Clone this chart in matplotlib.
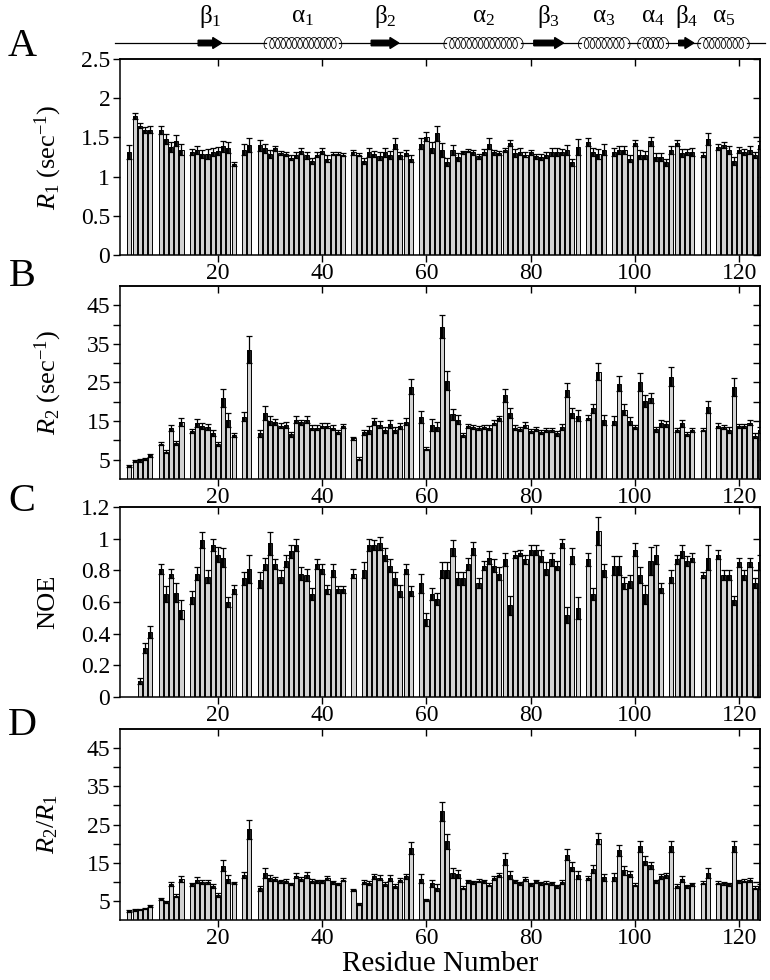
import numpy as np
import matplotlib
matplotlib.use('Agg')
import matplotlib.pyplot as plt
import matplotlib.patches as patches

plt.rcParams['font.family'] = 'Liberation Serif'
plt.rcParams['mathtext.fontset'] = 'custom'
plt.rcParams['mathtext.rm'] = 'Liberation Serif'
plt.rcParams['mathtext.it'] = 'Liberation Serif:italic'
plt.rcParams['axes.linewidth'] = 1.1

# residues without data
gaps = [8, 14, 24, 27, 45, 58, 90, 95, 112, 115]
gaps_noe = gaps + [3, 4, 47, 106]
residues = [r for r in range(3, 125) if r not in gaps]
residues_noe = [r for r in range(3, 125) if r not in gaps_noe]

# R1 (sec^-1)
r1 = [1.31, 1.77, 1.65, 1.59, 1.60,
      1.59, 1.48, 1.38, 1.46, 1.34,
      1.31, 1.34, 1.29, 1.29, 1.31, 1.33, 1.39, 1.37, 1.16,
      1.34, 1.40,
      1.40, 1.36, 1.29, 1.36, 1.30, 1.29, 1.24, 1.28, 1.33, 1.27, 1.20, 1.28, 1.33, 1.23, 1.29, 1.29, 1.28,
      1.31, 1.28, 1.20, 1.31, 1.29, 1.26, 1.31, 1.28, 1.42, 1.27, 1.30, 1.23,
      1.42, 1.51, 1.37, 1.55, 1.34, 1.19, 1.34, 1.25, 1.31, 1.33, 1.31, 1.26, 1.31, 1.42, 1.31, 1.30,
      1.34, 1.43, 1.30, 1.32, 1.28, 1.31, 1.26, 1.25, 1.28, 1.31, 1.31, 1.31, 1.34, 1.18, 1.38,
      1.44, 1.31, 1.29, 1.34,
      1.31, 1.34, 1.34, 1.23, 1.43, 1.28, 1.28, 1.45, 1.25, 1.25, 1.18, 1.34, 1.43, 1.30, 1.31, 1.31,
      1.28, 1.48,
      1.38, 1.40, 1.34, 1.20, 1.34, 1.31, 1.34, 1.28, 1.40]
r1_err = [0.09, 0.04, 0.03, 0.04, 0.04,
          0.05, 0.06, 0.06, 0.07, 0.07,
          0.04, 0.05, 0.05, 0.06, 0.05, 0.05, 0.07, 0.07, 0.02,
          0.07, 0.09,
          0.07, 0.06, 0.05, 0.03, 0.03, 0.03, 0.03, 0.04, 0.04, 0.04, 0.04, 0.03, 0.04, 0.04, 0.02, 0.02, 0.02,
          0.03, 0.02, 0.04, 0.06, 0.04, 0.05, 0.06, 0.05, 0.07, 0.04, 0.04, 0.05,
          0.07, 0.06, 0.07, 0.09, 0.09, 0.05, 0.06, 0.05, 0.02, 0.02, 0.03, 0.03, 0.04, 0.07, 0.03, 0.03,
          0.03, 0.04, 0.05, 0.04, 0.03, 0.03, 0.03, 0.04, 0.04, 0.05, 0.05, 0.04, 0.06, 0.05, 0.10,
          0.05, 0.05, 0.06, 0.07,
          0.05, 0.05, 0.05, 0.05, 0.04, 0.06, 0.05, 0.06, 0.05, 0.05, 0.04, 0.05, 0.04, 0.05, 0.04, 0.05,
          0.03, 0.08,
          0.04, 0.04, 0.05, 0.05, 0.04, 0.04, 0.05, 0.04, 0.05]

# R2 (sec^-1)
r2 = [3.4, 4.6, 4.8, 5.1, 6.1,
      9.1, 7.1, 13.3, 9.4, 14.8,
      12.4, 14.6, 13.8, 13.5, 12.0, 9.1, 20.9, 15.3, 11.4,
      16.1, 33.5,
      11.8, 17.0, 15.1, 14.8, 13.8, 14.0, 11.6, 15.3, 14.7, 15.4, 13.3, 13.3, 13.8, 13.8, 13.3, 12.2, 13.8,
      10.5, 5.3, 12.1, 12.7, 15.0, 14.1, 12.7, 14.2, 12.7, 13.8, 14.8, 23.9,
      16.1, 7.9, 14.0, 13.6, 39.4, 25.5, 16.8, 15.4, 11.4, 13.8, 13.5, 13.3, 13.5, 13.3, 14.6, 15.7,
      21.7, 17.0, 13.3, 12.9, 14.0, 12.5, 13.0, 12.2, 12.7, 12.7, 11.8, 13.5, 23.0, 17.0, 16.4,
      15.9, 18.3, 27.8, 15.3,
      15.1, 24.7, 18.0, 15.1, 13.5, 25.2, 20.2, 21.0, 12.9, 14.4, 14.2, 26.5, 12.7, 14.4, 11.6, 12.7,
      12.8, 18.7,
      13.8, 13.5, 12.7, 23.9, 13.8, 13.8, 14.6, 11.2, 12.7]
r2_err = [0.3, 0.3, 0.3, 0.3, 0.5,
          0.4, 0.4, 0.8, 0.5, 1.1,
          0.5, 1.0, 0.8, 0.8, 0.8, 0.6, 2.3, 1.7, 0.4,
          1.2, 3.5,
          1.0, 1.8, 1.1, 0.8, 0.7, 0.8, 0.6, 0.9, 0.7, 1.0, 0.7, 0.6, 0.7, 0.7, 0.6, 0.5, 0.5,
          0.3, 0.3, 0.6, 1.0, 0.9, 0.9, 0.8, 1.1, 0.9, 0.8, 0.9, 2.0,
          1.5, 0.5, 1.5, 1.1, 3.0, 2.5, 1.4, 1.2, 0.6, 0.5, 0.5, 0.5, 0.5, 0.6, 0.7, 0.6,
          1.7, 1.3, 0.6, 0.5, 0.7, 0.5, 0.6, 0.5, 0.5, 0.5, 0.6, 0.7, 1.8, 1.3, 1.4,
          0.6, 1.2, 2.2, 1.2,
          1.1, 2.0, 1.4, 1.0, 0.6, 2.3, 1.5, 1.2, 0.7, 0.8, 0.7, 2.4, 0.6, 0.9, 0.5, 0.6,
          0.4, 1.6,
          0.6, 0.5, 0.7, 2.3, 0.5, 0.5, 0.7, 0.6, 0.8]

# heteronuclear NOE
noe = [0.10, 0.31, 0.41,
       0.81, 0.65, 0.78, 0.66, 0.55,
       0.63, 0.78, 0.99, 0.76, 0.96, 0.90, 0.88, 0.60, 0.68,
       0.75, 0.81,
       0.74, 0.84, 0.97, 0.84, 0.76, 0.86, 0.92, 0.96, 0.78, 0.77, 0.65, 0.84, 0.81, 0.68, 0.80, 0.68, 0.68,
       0.78,
       0.80, 0.96, 0.96, 0.97, 0.90, 0.83, 0.75, 0.67, 0.81, 0.67,
       0.72, 0.49, 0.65, 0.62, 0.80, 0.80, 0.94, 0.75, 0.75, 0.84, 0.94, 0.72, 0.83, 0.88, 0.83, 0.78,
       0.87, 0.58, 0.90, 0.91, 0.87, 0.93, 0.93, 0.89, 0.81, 0.87, 0.83, 0.97, 0.52, 0.89, 0.56,
       0.87, 0.65, 1.05, 0.80,
       0.83, 0.83, 0.72, 0.73, 0.93, 0.77, 0.65, 0.86, 0.90, 0.69,
       0.76, 0.87, 0.92, 0.86, 0.88,
       0.77, 0.88,
       0.90, 0.77, 0.77, 0.61, 0.85, 0.77, 0.85, 0.72, 0.85]
noe_err = [0.02, 0.03, 0.04,
           0.03, 0.05, 0.03, 0.06, 0.06,
           0.04, 0.04, 0.05, 0.04, 0.04, 0.05, 0.06, 0.03, 0.03,
           0.04, 0.09,
           0.05, 0.04, 0.07, 0.03, 0.04, 0.04, 0.04, 0.04, 0.04, 0.04, 0.04, 0.03, 0.03, 0.03, 0.04, 0.02, 0.02,
           0.03,
           0.05, 0.04, 0.03, 0.04, 0.04, 0.04, 0.04, 0.04, 0.03, 0.03,
           0.06, 0.04, 0.04, 0.04, 0.05, 0.05, 0.05, 0.04, 0.04, 0.04, 0.04, 0.03, 0.03, 0.04, 0.04, 0.04,
           0.04, 0.06, 0.02, 0.02, 0.03, 0.03, 0.03, 0.04, 0.04, 0.04, 0.03, 0.03, 0.05, 0.05, 0.07,
           0.04, 0.04, 0.09, 0.04,
           0.06, 0.06, 0.04, 0.04, 0.04, 0.05, 0.06, 0.09, 0.06, 0.03,
           0.04, 0.03, 0.04, 0.03, 0.03,
           0.02, 0.08,
           0.03, 0.03, 0.03, 0.03, 0.03, 0.03, 0.03, 0.03, 0.05]

# R2/R1
ratio = [2.4, 2.6, 2.8, 3.0, 3.7,
         5.5, 4.8, 9.4, 6.3, 10.7,
         9.4, 10.5, 9.9, 9.9, 9.0, 6.6, 14.2, 10.7, 9.6,
         11.8, 23.7,
         8.3, 12.3, 11.1, 10.7, 10.1, 10.3, 9.4, 11.6, 10.7, 11.8, 10.3, 10.1, 10.1, 11.0, 9.9, 9.4, 10.5,
         7.9, 4.2, 9.9, 9.6, 11.4, 11.1, 9.4, 11.0, 8.9, 10.5, 11.4, 18.9,
         10.8, 5.3, 9.6, 8.5, 28.5, 20.6, 12.3, 12.1, 8.5, 10.1, 9.9, 10.3, 10.1, 9.2, 11.0, 11.8,
         16.0, 11.8, 10.1, 9.6, 10.7, 9.4, 10.1, 9.6, 9.8, 9.6, 8.8, 9.9, 17.1, 14.0, 11.8,
         11.0, 13.4, 21.3, 11.2,
         11.2, 18.2, 13.0, 12.0, 9.2, 19.3, 15.5, 14.3, 10.1, 11.4, 11.7, 19.3, 8.9, 10.8, 8.8, 9.4,
         9.8, 12.3,
         9.8, 9.6, 9.4, 19.3, 10.1, 10.3, 10.5, 8.5, 8.8]
ratio_err = [0.2, 0.2, 0.2, 0.2, 0.3,
             0.3, 0.3, 0.5, 0.4, 0.8,
             0.4, 0.7, 0.6, 0.6, 0.5, 0.5, 1.4, 1.1, 0.3,
             0.8, 2.5,
             0.6, 1.2, 0.8, 0.5, 0.4, 0.5, 0.3, 0.6, 0.5, 0.8, 0.5, 0.5, 0.4, 0.6, 0.4, 0.3, 0.4,
             0.2, 0.2, 0.5, 0.5, 0.6, 0.6, 0.5, 0.8, 0.6, 0.6, 0.6, 1.5,
             1.2, 0.3, 1.0, 0.8, 2.5, 1.9, 1.2, 1.0, 0.4, 0.4, 0.4, 0.4, 0.4, 0.4, 0.5, 0.5,
             1.5, 1.0, 0.4, 0.4, 0.5, 0.4, 0.4, 0.4, 0.4, 0.4, 0.4, 0.6, 1.4, 1.1, 1.1,
             0.5, 1.0, 1.5, 0.9,
             1.0, 1.5, 1.2, 0.8, 0.4, 1.5, 1.2, 0.9, 0.5, 0.6, 0.6, 1.5, 0.4, 0.8, 0.4, 0.4,
             0.3, 1.2,
             0.4, 0.4, 0.4, 1.5, 0.4, 0.4, 0.5, 0.4, 0.6]

# secondary structure elements (start, end residue)
sec_names = ['β$_1$', 'α$_1$', 'β$_2$', 'α$_2$', 'β$_3$', 'α$_3$', 'α$_4$', 'β$_4$', 'α$_5$']
sec_kind = ['E', 'H', 'E', 'H', 'E', 'H', 'H', 'E', 'H']
sec_start = [16.2, 29.3, 49.4, 63.8, 80.6, 89.6, 101.0, 108.4, 112.5]
sec_end = [20.7, 43.3, 54.7, 78.1, 86.3, 98.6, 106.0, 111.3, 121.5]

W, H = 770, 980
fig = plt.figure(figsize=(W / 100, H / 100), dpi=100)

XLIM = (1.2, 124.0)
left, right = 120, 760


def frac(top, bottom):
    return [left / W, 1 - bottom / H, (right - left) / W, (bottom - top) / H]


def panel(box, res, vals, errs, ylim, yticks, ylabels, ylabel, letter, letter_y):
    ax = fig.add_axes(frac(*box))
    res = np.array(res)
    vals = np.array(vals)
    errs = np.array(errs)
    ax.bar(res, vals, width=0.8, color='#d2d2d2', edgecolor='black', linewidth=0.7, zorder=2)
    ax.vlines(res, vals - errs, vals, color='black', linewidth=2.6, zorder=3)
    ax.errorbar(res, vals, yerr=errs, fmt='none', ecolor='black', elinewidth=0.9,
                capsize=2.3, capthick=0.9, zorder=4)
    ax.set_xlim(*XLIM)
    ax.set_ylim(*ylim)
    ax.set_xticks([20, 40, 60, 80, 100, 120])
    ax.set_yticks(yticks)
    ax.set_yticklabels(ylabels)
    ax.tick_params(direction='out', length=5, width=1, labelsize=17, pad=2)
    ax.tick_params(axis='x', pad=1)
    # mirrored inward ticks on the top and right
    sx = ax.secondary_xaxis('top')
    sx.set_xticks([20, 40, 60, 80, 100, 120])
    sx.set_xticklabels([])
    sx.tick_params(direction='in', length=5, width=1)
    sy = ax.secondary_yaxis('right')
    sy.set_yticks(yticks)
    sy.set_yticklabels([])
    sy.tick_params(direction='in', length=5, width=1)
    fig.text(48 / W, 1 - ((box[0] + box[1]) / 2) / H, ylabel, rotation=90,
             ha='center', va='center', fontsize=19)
    fig.text(22 / W, 1 - letter_y / H, letter, ha='center', va='center', fontsize=29)
    return ax


panel((59, 255), residues, r1, r1_err, (0, 2.5), [0, 0.5, 1, 1.5, 2, 2.5],
      ['0', '0.5', '1', '1.5', '2', '2.5'], r'$R_{\mathrm{1}}$ (sec$^{\mathrm{-1}}$)', 'A', 46)

b_ticks = [5, 10, 15, 20, 25, 30, 35, 40, 45]
b_labels = ['5', '', '15', '', '25', '', '35', '', '45']
panel((286, 479), residues, r2, r2_err, (0, 50), b_ticks, b_labels,
      r'$R_{\mathrm{2}}$ (sec$^{\mathrm{-1}}$)', 'B', 276)

panel((507, 697), residues_noe, noe, noe_err, (0, 1.2), [0, 0.2, 0.4, 0.6, 0.8, 1.0, 1.2],
      ['0', '0.2', '0.4', '0.6', '0.8', '1', '1.2'], 'NOE', 'C', 501)

panel((729, 920), residues, ratio, ratio_err, (0, 50), b_ticks, b_labels,
      r'$R_{\mathrm{2}}/R_{\mathrm{1}}$', 'D', 725)
fig.text((left + right) / 2 / W, 1 - 971 / H, 'Residue Number', ha='center', va='baseline',
         fontsize=21)

# secondary structure schematic
ax0 = fig.add_axes([left / W, 1 - 56 / H, (right - left) / W, 56 / H])
ax0.set_xlim(*XLIM)
ax0.set_ylim(56, 0)
ax0.axis('off')
yc = 43
# backbone line, broken at helices
pts = [0.3]
for k, s, e in zip(sec_kind, sec_start, sec_end):
    if k == 'H':
        pts += [s, e]
pts.append(124.9)
for i in range(0, len(pts), 2):
    ax0.plot([pts[i], pts[i + 1]], [yc, yc], color='black', lw=0.9, clip_on=False)

for name, k, s, e in zip(sec_names, sec_kind, sec_start, sec_end):
    if k == 'E':
        ax0.add_patch(patches.FancyArrow(s, yc, e - s, 0, width=5.5, head_width=11,
                                         head_length=1.7, length_includes_head=True,
                                         color='black', clip_on=False))
    else:
        # helix drawn as a row of loops
        n = max(int(round((e - s) / 1.08)), 3)
        t = np.linspace(0, 2 * np.pi * n, 80 * n)
        p = (e - s) / n
        x = s + p * t / (2 * np.pi) - 0.7 * np.sin(t)
        y = yc + 5.5 * np.cos(t)
        ax0.plot(x, y, color='black', lw=0.6, clip_on=False)
    ax0.text((s + e) / 2, 17, name, ha='center', va='center', fontsize=18, clip_on=False)

fig.savefig('out.png', dpi=100)
